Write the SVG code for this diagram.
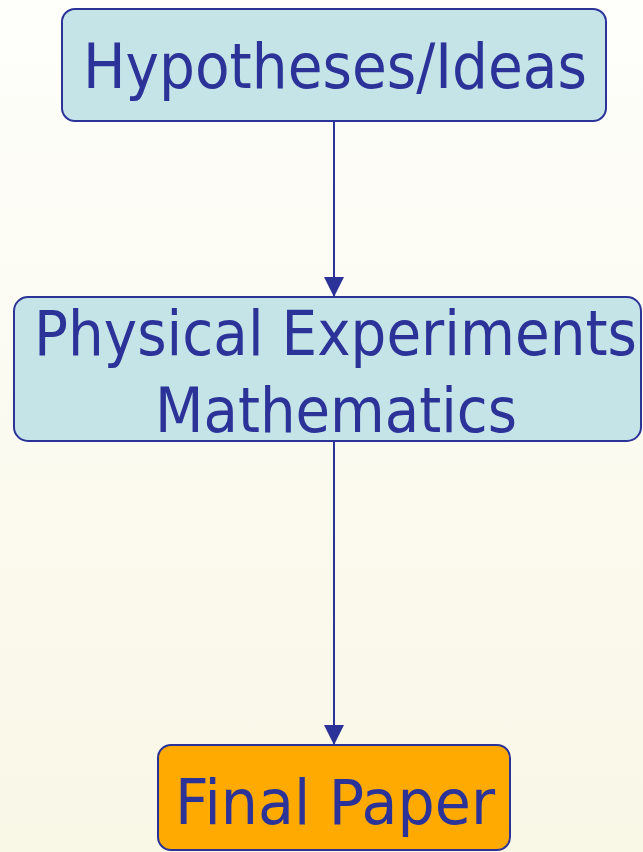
<svg xmlns="http://www.w3.org/2000/svg" width="643" height="852" viewBox="0 0 643 852">
  <defs>
    <linearGradient id="bg" x1="0" y1="0" x2="0" y2="1">
      <stop offset="0" stop-color="#fefefb"/>
      <stop offset="1" stop-color="#f9f7e6"/>
    </linearGradient>
    <marker id="arrow" viewBox="0 0 20 20" refX="20" refY="10" markerWidth="20" markerHeight="20" markerUnits="userSpaceOnUse" orient="auto">
      <path d="M0,0 L20,10 L0,20 Z" fill="#2b3398"/>
    </marker>
    <style>
      .box { stroke: #2b3398; stroke-width: 2; }
      .blue { fill: #c5e4e8; }
      .orange { fill: #ffaa00; }
      .lbl { font-family: "DejaVu Sans", "Liberation Sans", sans-serif; font-size: 62px; fill: #2b3398; text-anchor: middle; }
      .conn { stroke: #2b3398; stroke-width: 2; fill: none; }
    </style>
  </defs>
  <rect x="0" y="0" width="643" height="852" fill="url(#bg)"/>
  <g id="connectors">
    <line class="conn" x1="334" y1="121" x2="334" y2="297" marker-end="url(#arrow)"/>
    <line class="conn" x1="334" y1="441" x2="334" y2="745" marker-end="url(#arrow)"/>
  </g>
  <g id="node-hypotheses">
    <rect class="box blue" x="62" y="9" width="544" height="112" rx="13"/>
    <text class="lbl" x="335" y="88" textLength="504" lengthAdjust="spacingAndGlyphs">Hypotheses/Ideas</text>
  </g>
  <g id="node-experiments">
    <rect class="box blue" x="14" y="297" width="627" height="144" rx="14"/>
    <text class="lbl" x="335.5" y="355" textLength="603" lengthAdjust="spacingAndGlyphs">Physical Experiments</text>
    <text class="lbl" x="336" y="432" textLength="362" lengthAdjust="spacingAndGlyphs">Mathematics</text>
  </g>
  <g id="node-final">
    <rect class="box orange" x="158" y="745" width="352" height="105" rx="13"/>
    <text class="lbl" x="335" y="824" textLength="320" lengthAdjust="spacingAndGlyphs">Final Paper</text>
  </g>
</svg>
